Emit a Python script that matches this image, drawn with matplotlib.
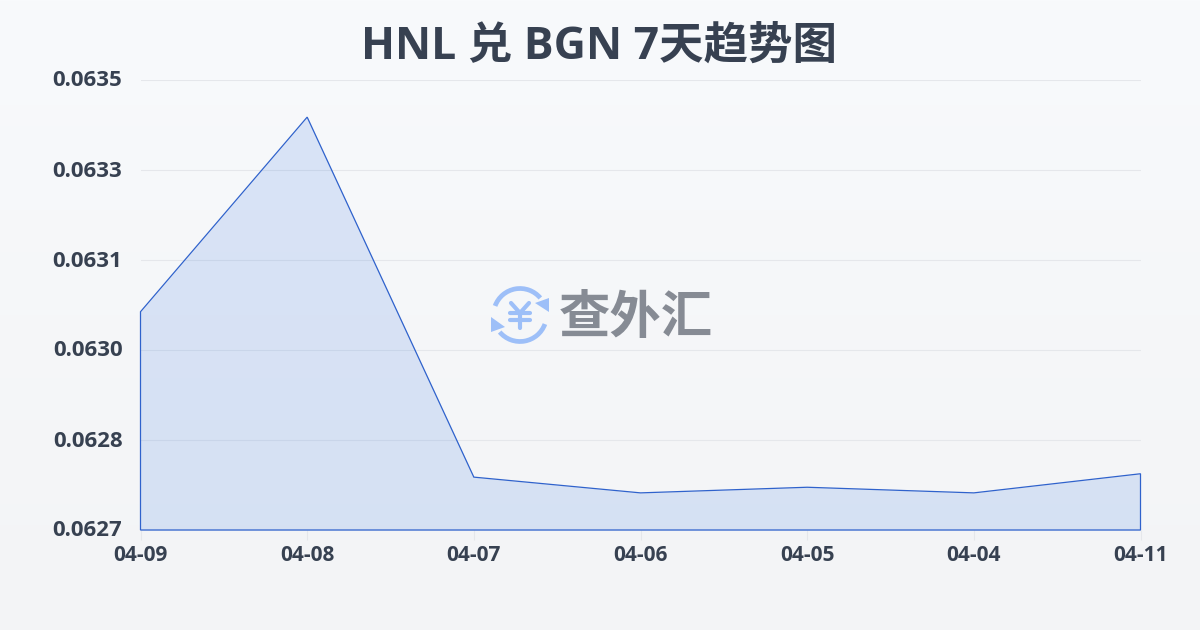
import numpy as np
import matplotlib
matplotlib.use('Agg')
import matplotlib.pyplot as plt
from matplotlib.patches import Arc, Polygon
from matplotlib.transforms import ScaledTranslation

plt.rcParams['font.family'] = ['Open Sans', 'Noto Sans CJK SC']

TITLE = 'HNL 兑 BGN 7天趋势图'
WATERMARK = '查外汇'
dates = ['04-09', '04-08', '04-07', '04-06', '04-05', '04-04', '04-11']
rates = [0.063088, 0.063434, 0.062794, 0.062766, 0.062776, 0.062766, 0.062800]
y_ticks = [0.0627, 0.06286, 0.06302, 0.06318, 0.06334, 0.0635]
y_labels = ['0.0627', '0.0628', '0.0630', '0.0631', '0.0633', '0.0635']

TEXT_COLOR = '#374151'
LINE_COLOR = '#2f62cc'
GRID_COLOR = '#e5e7eb'

fig = plt.figure(figsize=(12, 6.3), dpi=100)

# background gradient
bg = fig.add_axes([0, 0, 1, 1], zorder=0)
top = np.array([248, 250, 252]) / 255
bottom = np.array([243, 244, 246]) / 255
t = np.linspace(0, 1, 630).reshape(-1, 1, 1)
bg.imshow(top * (1 - t) + bottom * t, aspect='auto')
bg.axis('off')

ax = fig.add_axes([140.5 / 1200, 100 / 630, 1000 / 1200, 450 / 630], zorder=1)
ax.patch.set_alpha(0)
x = np.arange(len(dates))
ax.fill_between(x, rates, y_ticks[0], color='#2468e0', alpha=0.14, linewidth=0, zorder=2)
# outline goes round the whole area, as in the original
outline = list(zip(x, rates)) + [(x[-1], y_ticks[0]), (x[0], y_ticks[0])]
ax.add_patch(Polygon(outline, closed=True, fill=False, edgecolor=LINE_COLOR, linewidth=0.9, zorder=3, clip_on=False))

ax.set_xlim(x[0], x[-1])
ax.set_ylim(y_ticks[0], y_ticks[-1])
ax.set_xticks(x)
ax.set_xticklabels(dates, fontsize=15, fontweight='bold', color=TEXT_COLOR)
ax.set_yticks(y_ticks)
ax.set_yticklabels(y_labels, fontsize=16, fontweight='bold', color=TEXT_COLOR)
ax.tick_params(axis='x', length=7, width=0.8, color=GRID_COLOR, pad=3.6)
ax.tick_params(axis='y', length=0, pad=13)
# y labels sit a little above their gridlines
for label in ax.get_yticklabels():
    label.set_transform(label.get_transform() + ScaledTranslation(0, 1.5 / 100, fig.dpi_scale_trans))
ax.grid(axis='y', color=GRID_COLOR, linewidth=0.8)
ax.set_axisbelow(True)
for s in ax.spines.values():
    s.set_visible(False)

# overlay in pixel coords for title and watermark
over = fig.add_axes([0, 0, 1, 1], zorder=5)
over.set_xlim(0, 1200)
over.set_ylim(630, 0)
over.axis('off')
over.patch.set_alpha(0)
over.text(599, 47, TITLE, ha='center', va='center', fontsize=32, fontweight='bold', color=TEXT_COLOR)
over.text(636, 320, WATERMARK, ha='center', va='center', fontsize=37, fontweight='bold', color='#868b94')

LOGO = '#9dbff8'
over.add_patch(Arc((520, 315), 53, 53, theta1=200, theta2=320, color=LOGO, lw=3.4))
over.add_patch(Arc((520, 315), 53, 53, theta1=20, theta2=140, color=LOGO, lw=3.4))
over.add_patch(Polygon([(549, 298), (535, 303), (549, 312)], closed=True, color=LOGO, lw=0))
over.add_patch(Polygon([(491, 317), (505, 327), (491, 332)], closed=True, color=LOGO, lw=0))
over.plot([511, 520, 529], [303, 313, 303], color=LOGO, lw=3, solid_capstyle='round')
over.plot([520, 520], [313, 328], color=LOGO, lw=3, solid_capstyle='round')
over.plot([510, 530], [313, 313], color=LOGO, lw=3, solid_capstyle='round')
over.plot([510, 530], [320, 320], color=LOGO, lw=3, solid_capstyle='round')

fig.savefig('out.png', dpi=100)
